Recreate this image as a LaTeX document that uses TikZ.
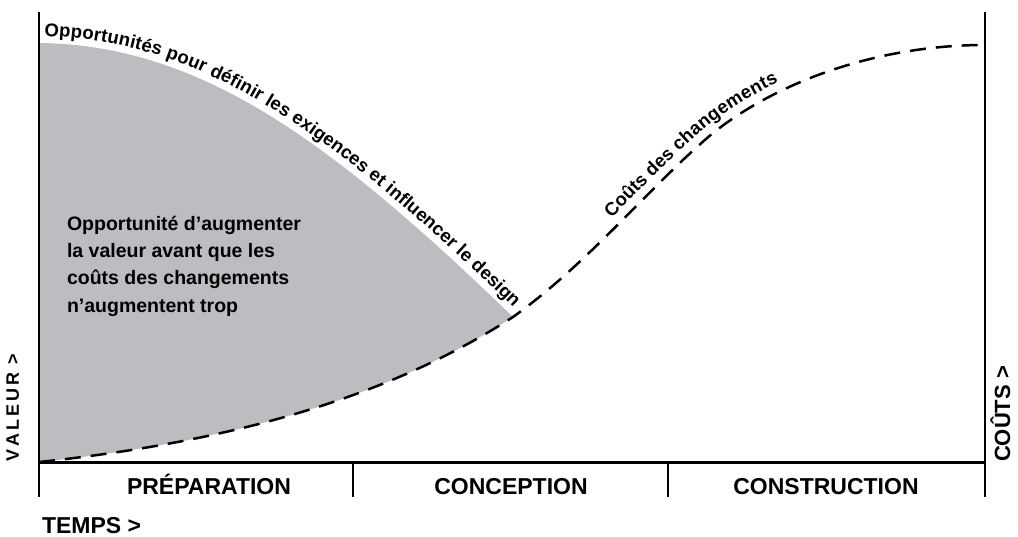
\documentclass[tikz,border=0pt]{standalone}
\usepackage{fontspec}
\setmainfont{Liberation Sans}
\usetikzlibrary{decorations.text}

\definecolor{zonegray}{RGB}{188,189,192}

\tikzset{
    phase/.style={anchor=base, inner sep=0, font=\fontsize{23}{27}\selectfont\bfseries},
}

\begin{document}
\begin{tikzpicture}[x=1pt, y=-1pt, line width=2pt]
    \useasboundingbox (0,0) rectangle (1018,537);

    \coordinate (orig) at (39,462);
    \coordinate (top) at (39,43);
    \coordinate (meet) at (513,317);
    \coordinate (turn) at (713,133);
    \coordinate (end) at (985,45);

    % zone d'opportunite
    \fill[zonegray] (top) .. controls (200,45) and (330,140) .. (meet)
        .. controls (400,390) and (250,440) .. (orig) -- cycle;

    % axes
    \draw (39,12) -- (39,497);
    \draw (985,12) -- (985,497);
    \draw[line width=3pt] (39,462) -- (985,462);
    \foreach \x in {353,668}
        \draw (\x,462) -- (\x,497);

    % couts des changements
    \draw[dash pattern=on 16pt off 10pt, line width=2.5pt] (orig) .. controls (250,440) and (400,390) .. (meet)
        .. controls (590,262) and (650,186) .. (turn) .. controls (780,80) and (880,45) .. (end);

    \path[decorate, decoration={text along path, raise=7pt, text align={left indent=5pt},
        text={|\fontsize{18.5}{21}\selectfont\bfseries|Opportunités pour définir les exigences et influencer le design}}]
        (top) .. controls (200,45) and (330,140) .. (meet);
    \path[decorate, decoration={text along path, raise=9pt, text align={left indent=140pt},
        text={|\fontsize{18.5}{21}\selectfont\bfseries|Coûts des changements}}]
        (meet) .. controls (590,262) and (650,186) .. (turn) .. controls (780,80) and (880,45) .. (end);

    \node[anchor=north west, align=left, inner sep=0, font=\fontsize{19.5}{27.3}\selectfont\bfseries] (gain) at (66,215)
        {Opportunité d’augmenter\\la valeur avant que les\\coûts des changements\\n’augmentent trop};

    \node[phase] (prep) at (209,494) {PRÉPARATION};
    \node[phase] (conc) at (511,494) {CONCEPTION};
    \node[phase] (cons) at (826,494) {CONSTRUCTION};

    \node[anchor=base west, inner sep=0, font=\fontsize{23}{27}\selectfont\bfseries] (temps) at (41,533) {TEMPS >};
    \node[rotate=90, anchor=base, inner sep=0, font=\fontsize{18}{21}\selectfont\bfseries] (valeur) at (19,408)
        {V\kern3pt A\kern3pt L\kern3pt E\kern3pt U\kern3pt R\kern3pt\ >};
    \node[rotate=90, anchor=base, inner sep=0, font=\fontsize{22}{26}\selectfont\bfseries] (couts) at (1010,414) {COÛTS >};
\end{tikzpicture}
\end{document}
